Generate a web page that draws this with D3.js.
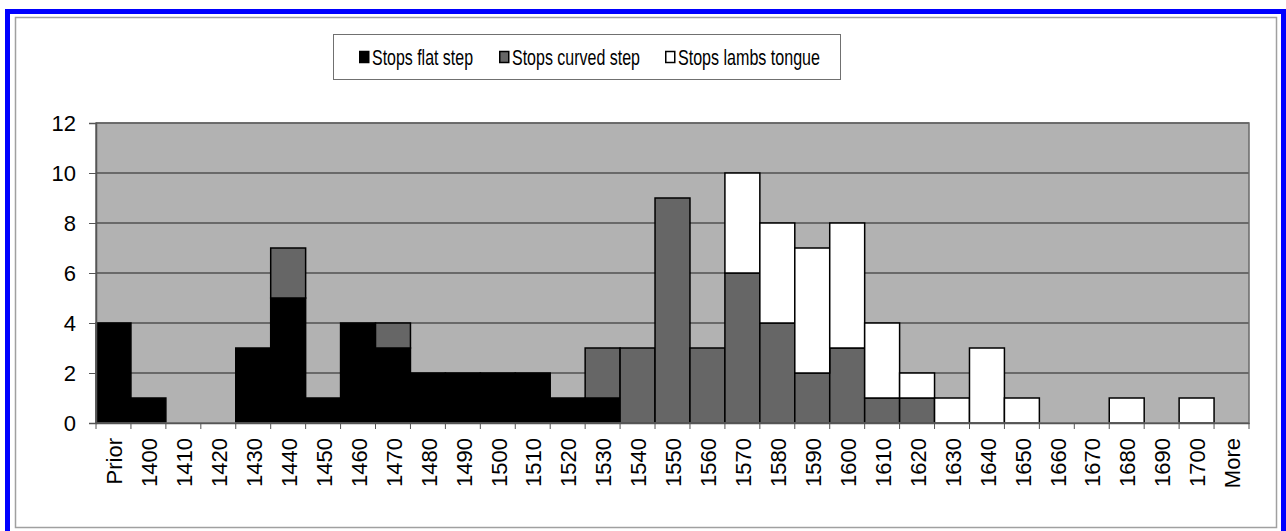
<!DOCTYPE html>
<html><head><meta charset="utf-8">
<script src="https://cdn.jsdelivr.net/npm/d3@7"></script>
<style>body{margin:0;background:#fff}svg{display:block;font-family:"Liberation Sans",Arial,sans-serif}</style>
</head><body>
<svg id="c" width="1286" height="531"></svg>
<script>
const categories = ["Prior","1400","1410","1420","1430","1440","1450","1460","1470","1480","1490","1500","1510","1520","1530","1540","1550","1560","1570","1580","1590","1600","1610","1620","1630","1640","1650","1660","1670","1680","1690","1700","More"];
const flatStep   = [4,1,0,0,3,5,1,4,3,2,2,2,2,1,1,0,0,0,0,0,0,0,0,0,0,0,0,0,0,0,0,0,0];
const curvedStep = [0,0,0,0,0,2,0,0,1,0,0,0,0,0,2,3,9,3,6,4,2,3,1,1,0,0,0,0,0,0,0,0,0];
const lambsTongue= [0,0,0,0,0,0,0,0,0,0,0,0,0,0,0,0,0,0,4,4,5,5,3,1,1,3,1,0,0,1,0,1,0];
const seriesNames = ["Stops flat step","Stops curved step","Stops lambs tongue"];
const yTicks = [0,2,4,6,8,10,12];
const colors = ["#000000","#666666","#ffffff"];

const svg = d3.select("#c");
svg.append("rect").attr("x",7.5).attr("y",11.5).attr("width",1276).attr("height",530).attr("fill","none").attr("stroke","#0000ff").attr("stroke-width",5);
svg.append("rect").attr("x",15.5).attr("y",17.5).attr("width",1261).attr("height",510).attr("fill","#fff").attr("stroke","#a0a0a0").attr("stroke-width",1.5);

const L=96, R=1249, T=123, B=423;
const x = d3.scaleBand().domain(categories).range([L,R]).padding(0);
const y = d3.scaleLinear().domain([0,12]).range([B,T]);

svg.append("rect").attr("x",L).attr("y",T).attr("width",R-L).attr("height",B-T).attr("fill","#b2b2b2");
svg.append("g").selectAll("line").data(yTicks.filter(d=>d>0)).join("line")
  .attr("x1",L).attr("x2",R).attr("y1",d=>y(d)).attr("y2",d=>y(d)).attr("stroke","#505050").attr("stroke-width",1.5);

const rows = categories.map((c,i)=>({cat:c, v:[flatStep[i],curvedStep[i],lambsTongue[i]]}));
const stacked = d3.stack().keys([0,1,2]).value((d,k)=>d.v[k])(rows);
stacked.forEach((s,k)=>{
  svg.append("g").selectAll("rect").data(s.filter(d=>d[1]-d[0]>0)).join("rect")
    .attr("x",d=>x(d.data.cat)).attr("width",x.bandwidth())
    .attr("y",d=>y(d[1])).attr("height",d=>y(d[0])-y(d[1]))
    .attr("fill",colors[k]).attr("stroke","#000").attr("stroke-width",1.5);
});

svg.append("rect").attr("x",L).attr("y",T).attr("width",R-L).attr("height",B-T).attr("fill","none").attr("stroke","#6a6a6a").attr("stroke-width",1.5);

const FONT = "Liberation Sans, Arial, sans-serif";
const ya = svg.append("g").attr("transform",`translate(${L},0)`)
  .call(d3.axisLeft(y).tickValues(yTicks).tickSize(7).tickPadding(13).tickFormat(d3.format("d")));
ya.select(".domain").attr("stroke","#555").attr("stroke-width",1.5);
ya.selectAll(".tick line").attr("stroke","#555");
ya.selectAll("text").attr("font-size",22).attr("fill","#000").attr("font-family",FONT);

const xa = svg.append("g").attr("transform",`translate(0,${B})`)
  .call(d3.axisBottom(x).tickSize(0).tickPadding(0));
xa.select(".domain").attr("stroke","#555").attr("stroke-width",1.5);
xa.selectAll(".tick text").attr("font-size",22).attr("fill","#000").attr("font-family",FONT)
  .attr("transform","rotate(-90)").attr("text-anchor","end").attr("x",-15).attr("y",1).attr("dy","0.35em");
const bounds = categories.map(c=>x(c)).concat([R]);
svg.append("g").selectAll("line").data(bounds).join("line")
  .attr("x1",d=>d).attr("x2",d=>d).attr("y1",B).attr("y2",B+6).attr("stroke","#555").attr("stroke-width",1);

// legend
const lg = svg.append("g");
lg.append("rect").attr("x",333.5).attr("y",34.5).attr("width",507).attr("height",45).attr("fill","#fff").attr("stroke","#707070").attr("stroke-width",1);
const legX = [359, 499, 665];
const legW = [101, 128, 142];
seriesNames.forEach((n,k)=>{
  lg.append("rect").attr("x",legX[k]+0.75).attr("y",51.5).attr("width",9).attr("height",11).attr("fill",colors[k]).attr("stroke","#000").attr("stroke-width",1.5);
  lg.append("text").attr("x",legX[k]+13).attr("y",65).attr("font-size",22).attr("fill","#000")
    .attr("textLength",legW[k]).attr("lengthAdjust","spacingAndGlyphs").text(n);
});
</script>
</body></html>
